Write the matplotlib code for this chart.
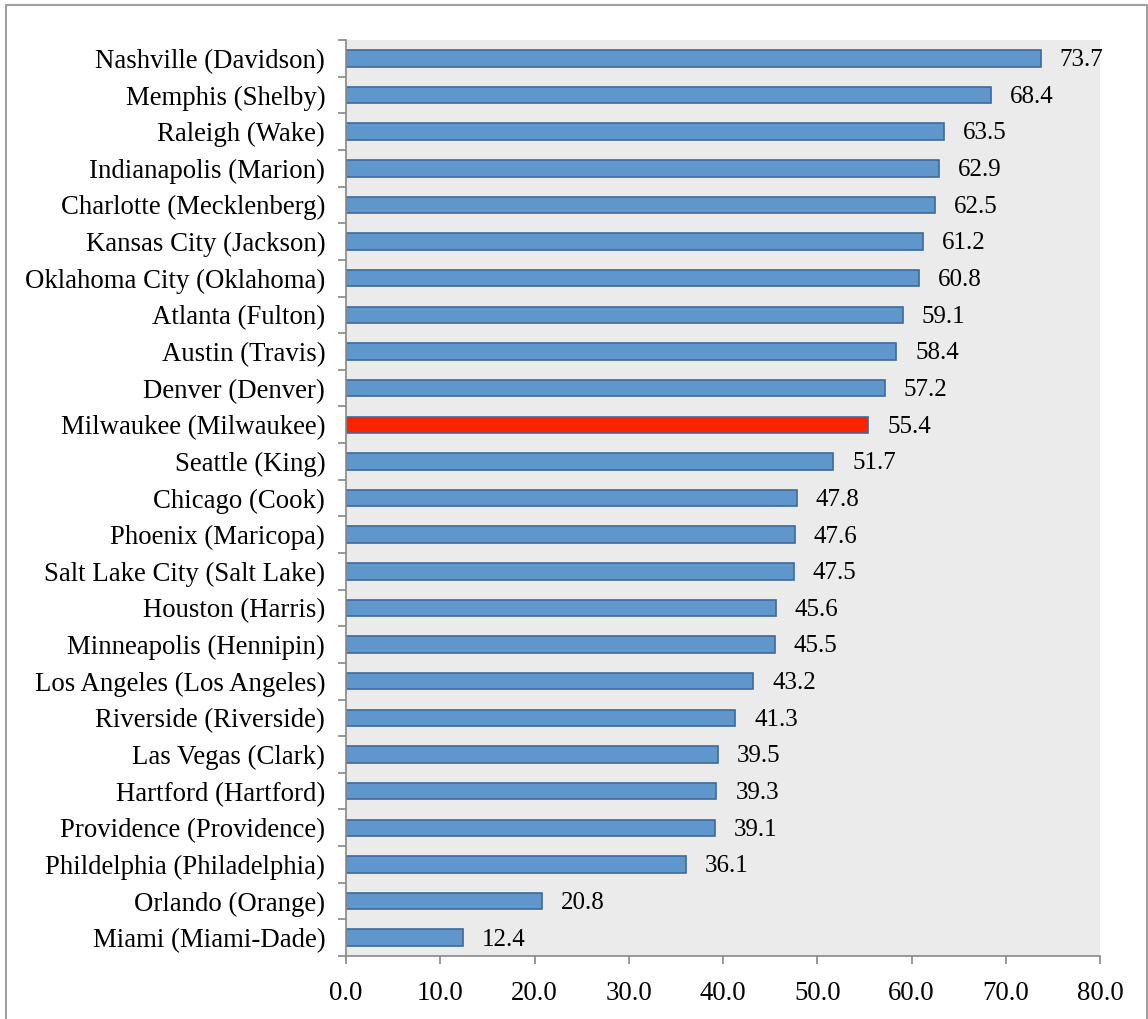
import matplotlib.pyplot as plt
from matplotlib.patches import Rectangle

# Counties, top to bottom as shown
counties = [
    'Nashville (Davidson)', 'Memphis (Shelby)', 'Raleigh (Wake)',
    'Indianapolis (Marion)', 'Charlotte (Mecklenberg)', 'Kansas City (Jackson)',
    'Oklahoma City (Oklahoma)', 'Atlanta (Fulton)', 'Austin (Travis)',
    'Denver (Denver)', 'Milwaukee (Milwaukee)', 'Seattle (King)',
    'Chicago (Cook)', 'Phoenix (Maricopa)', 'Salt Lake City (Salt Lake)',
    'Houston (Harris)', 'Minneapolis (Hennipin)', 'Los Angeles (Los Angeles)',
    'Riverside (Riverside)', 'Las Vegas (Clark)', 'Hartford (Hartford)',
    'Providence (Providence)', 'Phildelphia (Philadelphia)', 'Orlando (Orange)',
    'Miami (Miami-Dade)',
]
values = [73.7, 68.4, 63.5, 62.9, 62.5, 61.2, 60.8, 59.1, 58.4, 57.2, 55.4,
          51.7, 47.8, 47.6, 47.5, 45.6, 45.5, 43.2, 41.3, 39.5, 39.3, 39.1,
          36.1, 20.8, 12.4]
highlight = 'Milwaukee (Milwaukee)'
xticks = [0, 10, 20, 30, 40, 50, 60, 70, 80]

plt.rcParams['font.family'] = ['Liberation Serif', 'DejaVu Serif']

fig = plt.figure(figsize=(11.48, 10.19), dpi=100)
ax = fig.add_axes([0.3014, 0.0618, 0.6568, 0.8989])
ax.set_facecolor('#EBEBEB')

# figure frame
fig.patches.append(Rectangle((0.005, -0.01), 0.994, 1.005, transform=fig.transFigure,
                             fill=False, edgecolor='#A0A0A0', linewidth=1.5))

n = len(counties)
ypos = list(range(n))
colors = ['#FF2200' if c == highlight else '#5F96CB' for c in counties]
ax.barh(ypos, values, height=0.45, color=colors, edgecolor='#3E6A9A', linewidth=1.2)

for y, v in zip(ypos, values):
    ax.text(v + 2.0, y + 0.05, f'{v:.1f}', va='center', ha='left', fontsize=18,
            color='black')

ax.set_ylim(n - 0.5, -0.5)
ax.set_xlim(0, 80)
ax.set_yticks(ypos)
ax.set_yticklabels(counties, fontsize=19.3)
ax.set_yticks([i - 0.5 for i in range(n + 1)], minor=True)
ax.tick_params(axis='y', which='major', length=0, pad=15)
ax.tick_params(axis='y', which='minor', length=6, color='#888888', width=1.2)
ax.set_xticks(xticks)
ax.set_xticklabels([f'{t:.1f}' for t in xticks], fontsize=19.3)
ax.tick_params(axis='x', length=6, color='#888888', width=1.2, pad=12)

for s in ['top', 'right']:
    ax.spines[s].set_visible(False)
ax.spines['left'].set_color('#888888')
ax.spines['bottom'].set_color('#888888')
ax.spines['left'].set_linewidth(1.2)
ax.spines['bottom'].set_linewidth(1.2)

fig.savefig('out.png', dpi=100)
